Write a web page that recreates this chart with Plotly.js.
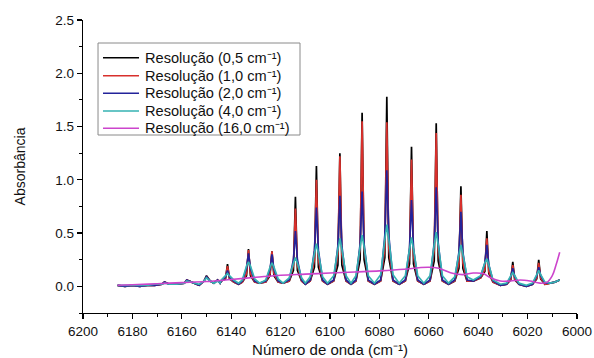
<!DOCTYPE html>
<html>
<head>
<meta charset="utf-8">
<script src="https://cdn.plot.ly/plotly-3.0.1.min.js"></script>
<style>html,body{margin:0;padding:0;background:#fff;}#chart{width:594px;height:358px;}</style>
</head>
<body>
<div id="chart"></div>
<script>
// Wavenumber grid (cm-1) shared by the four high-resolution spectra
const waveNumbers = [
6186, 6183, 6180, 6177, 6174, 6171, 6168, 6167, 6165, 6162, 6159, 6158, 6156, 6153, 6151, 6150, 6148.5, 6147, 6145.5, 6144.5,
6144, 6142.3, 6141.5, 6140.7, 6139, 6137,
6135.5, 6133.8, 6133, 6132.2, 6130.5, 6128.5,
6126, 6124.3, 6123.5, 6122.7, 6121, 6119,
6116.5, 6114.8, 6114, 6113.2, 6111.5, 6110,
6108, 6106.3, 6105.5, 6104.7, 6103, 6101,
6098.5, 6096.8, 6096, 6095.2, 6093.5, 6091.5,
6089.5, 6087.8, 6087, 6086.2, 6084.5, 6082,
6079.5, 6077.8, 6077, 6076.2, 6074.5, 6072,
6069.5, 6067.8, 6067, 6066.2, 6064.5, 6062,
6059.5, 6057.8, 6057, 6056.2, 6054.5, 6052,
6049.5, 6047.8, 6047, 6046.2, 6044.5, 6042,
6039, 6037.3, 6036.5, 6035.7, 6034, 6031,
6028.5, 6026.8, 6026, 6025.2, 6023.5, 6020.5,
6018, 6016.3, 6015.5, 6014.7, 6013,
6011, 6009, 6007];

const res05 = [
0.01, 0.00, 0.01, 0.00, 0.01, 0.01, 0.02, 0.04, 0.02, 0.02, 0.03, 0.06, 0.04, 0.01, 0.05, 0.10, 0.05, 0.03, 0.06, 0.03,
0.05, 0.07, 0.21, 0.07, 0.04, 0.02,
0.04, 0.10, 0.35, 0.10, 0.04, 0.03,
0.04, 0.10, 0.33, 0.10, 0.04, 0.03,
0.05, 0.15, 0.84, 0.15, 0.05, 0.02,
0.05, 0.18, 1.13, 0.18, 0.05, 0.02,
0.05, 0.20, 1.25, 0.20, 0.05, 0.02,
0.05, 0.25, 1.63, 0.25, 0.05, 0.02,
0.05, 0.27, 1.78, 0.27, 0.05, 0.02,
0.05, 0.21, 1.31, 0.21, 0.05, 0.02,
0.05, 0.24, 1.53, 0.24, 0.05, 0.02,
0.05, 0.17, 0.94, 0.17, 0.05, 0.05,
0.08, 0.14, 0.52, 0.12, 0.04, 0.01,
0.02, 0.06, 0.23, 0.06, 0.02, 0.00,
0.02, 0.07, 0.25, 0.07, 0.02,
0.03, 0.04, 0.06];

const res10 = [
0.01, 0.00, 0.01, 0.00, 0.01, 0.01, 0.02, 0.04, 0.02, 0.02, 0.03, 0.06, 0.04, 0.01, 0.05, 0.09, 0.05, 0.03, 0.06, 0.03,
0.05, 0.08, 0.19, 0.08, 0.04, 0.02,
0.04, 0.12, 0.34, 0.12, 0.04, 0.03,
0.04, 0.12, 0.33, 0.12, 0.04, 0.03,
0.05, 0.20, 0.73, 0.20, 0.05, 0.02,
0.05, 0.25, 1.00, 0.25, 0.05, 0.02,
0.05, 0.30, 1.22, 0.30, 0.05, 0.02,
0.05, 0.36, 1.55, 0.36, 0.05, 0.02,
0.05, 0.36, 1.54, 0.36, 0.05, 0.02,
0.05, 0.29, 1.19, 0.29, 0.05, 0.02,
0.05, 0.34, 1.44, 0.34, 0.05, 0.02,
0.05, 0.22, 0.86, 0.22, 0.05, 0.05,
0.08, 0.16, 0.45, 0.14, 0.04, 0.01,
0.02, 0.07, 0.20, 0.07, 0.02, 0.00,
0.02, 0.08, 0.22, 0.08, 0.02,
0.03, 0.04, 0.06];

const res20 = [
0.01, 0.00, 0.01, 0.00, 0.01, 0.01, 0.02, 0.04, 0.02, 0.02, 0.03, 0.06, 0.04, 0.01, 0.05, 0.09, 0.05, 0.03, 0.06, 0.03,
0.05, 0.09, 0.15, 0.09, 0.05, 0.02,
0.05, 0.17, 0.31, 0.17, 0.05, 0.03,
0.05, 0.16, 0.30, 0.16, 0.05, 0.03,
0.06, 0.25, 0.52, 0.25, 0.06, 0.02,
0.06, 0.34, 0.74, 0.34, 0.06, 0.02,
0.06, 0.38, 0.85, 0.38, 0.06, 0.02,
0.06, 0.40, 0.89, 0.40, 0.06, 0.02,
0.06, 0.48, 1.09, 0.48, 0.06, 0.02,
0.06, 0.36, 0.81, 0.36, 0.06, 0.02,
0.06, 0.41, 0.93, 0.41, 0.06, 0.02,
0.06, 0.32, 0.70, 0.32, 0.06, 0.05,
0.09, 0.22, 0.39, 0.20, 0.05, 0.01,
0.02, 0.09, 0.17, 0.09, 0.02, 0.00,
0.02, 0.10, 0.18, 0.10, 0.03,
0.03, 0.04, 0.06];

const res40 = [
0.01, 0.01, 0.01, 0.01, 0.01, 0.02, 0.02, 0.03, 0.02, 0.02, 0.03, 0.05, 0.04, 0.02, 0.05, 0.08, 0.05, 0.03, 0.05, 0.03,
0.06, 0.10, 0.12, 0.10, 0.06, 0.03,
0.06, 0.19, 0.23, 0.19, 0.07, 0.03,
0.06, 0.18, 0.22, 0.18, 0.07, 0.03,
0.08, 0.22, 0.27, 0.22, 0.08, 0.03,
0.09, 0.31, 0.40, 0.31, 0.09, 0.03,
0.10, 0.35, 0.45, 0.35, 0.10, 0.03,
0.10, 0.37, 0.48, 0.37, 0.10, 0.03,
0.11, 0.44, 0.58, 0.44, 0.11, 0.03,
0.10, 0.35, 0.46, 0.35, 0.10, 0.03,
0.10, 0.39, 0.51, 0.39, 0.10, 0.03,
0.09, 0.30, 0.39, 0.30, 0.09, 0.06,
0.10, 0.22, 0.26, 0.20, 0.06, 0.02,
0.03, 0.10, 0.13, 0.10, 0.03, 0.01,
0.03, 0.11, 0.15, 0.11, 0.04,
0.03, 0.04, 0.06];

// 16 cm-1 spectrum (smooth)
const waveNumbers16 = [6186, 6180, 6170, 6160, 6150, 6140, 6130, 6120, 6110, 6100, 6090, 6080, 6070, 6064, 6060, 6056, 6050, 6046, 6042, 6038, 6035, 6031, 6027, 6023, 6019, 6015, 6012, 6010, 6008.5, 6007];
const res160 = [0.01, 0.015, 0.025, 0.035, 0.045, 0.065, 0.085, 0.105, 0.115, 0.125, 0.135, 0.145, 0.16, 0.175, 0.18, 0.17, 0.12, 0.11, 0.125, 0.12, 0.08, 0.05, 0.05, 0.06, 0.05, 0.03, 0.04, 0.10, 0.20, 0.32];

const seriesNames = [
  'Resolução (0,5 cm⁻¹)',
  'Resolução (1,0 cm⁻¹)',
  'Resolução (2,0 cm⁻¹)',
  'Resolução (4,0 cm⁻¹)',
  'Resolução (16,0 cm⁻¹)'
];
const seriesColors = ['#000000', '#d8302c', '#23239a', '#35b2b2', '#cc44cc'];

const ys = [res05, res10, res20, res40];
const traces = ys.map((y, i) => ({
  type: 'scatter', mode: 'lines', x: waveNumbers, y: y,
  name: seriesNames[i], line: {color: seriesColors[i], width: 1.7}
}));
traces.push({type: 'scatter', mode: 'lines', x: waveNumbers16, y: res160,
  name: seriesNames[4], line: {color: seriesColors[4], width: 1.6, shape: 'spline'}});

const font = 'Liberation Sans, Arial, sans-serif';

// Legend drawn as a framed box with line samples (paper coordinates)
const legendBox = {x0: 0.0304, x1: 0.4393, y0: 0.6075, y1: 0.9215};
const legendRowY = [0.8713, 0.8099, 0.7498, 0.6894, 0.6304];
const shapes = [{type: 'rect', xref: 'paper', yref: 'paper',
  x0: legendBox.x0, x1: legendBox.x1, y0: legendBox.y0, y1: legendBox.y1,
  line: {color: '#8a8a8a', width: 1}, fillcolor: '#fff', layer: 'below'}];
const annotations = [];
seriesNames.forEach((name, i) => {
  shapes.push({type: 'line', xref: 'paper', yref: 'paper',
    x0: 0.0405, x1: 0.1134, y0: legendRowY[i], y1: legendRowY[i],
    line: {color: seriesColors[i], width: 1.6}});
  annotations.push({xref: 'paper', yref: 'paper', x: 0.1235, y: legendRowY[i],
    xanchor: 'left', yanchor: 'middle', showarrow: false, text: name, borderpad: 0,
    font: {family: font, size: 14.6, color: '#111'}});
});

const layout = {
  width: 594, height: 358,
  margin: {l: 83, r: 17, t: 20, b: 45},
  paper_bgcolor: '#fff', plot_bgcolor: '#fff',
  font: {family: font, color: '#111', size: 13},
  showlegend: false,
  shapes: shapes,
  annotations: annotations,
  xaxis: {
    range: [6200, 6000], dtick: 20, tick0: 6000,
    showgrid: false, zeroline: false, showline: true, linecolor: '#000', linewidth: 1.3,
    ticks: 'outside', ticklen: 5, tickwidth: 1.2, tickcolor: '#000',
    minor: {dtick: 10, ticks: 'outside', ticklen: 3, tickwidth: 1, tickcolor: '#000', showgrid: false},
    tickformat: 'd', tickfont: {size: 13.5},
    title: {text: 'Número de onda (cm⁻¹)', font: {size: 15}, standoff: 8}
  },
  yaxis: {
    range: [-0.25, 2.5], dtick: 0.5, tick0: 0,
    showgrid: false, zeroline: false, showline: true, linecolor: '#000', linewidth: 1.3,
    ticks: 'outside', ticklen: 5, tickwidth: 1.2, tickcolor: '#000',
    minor: {dtick: 0.25, ticks: 'outside', ticklen: 3, tickwidth: 1, tickcolor: '#000', showgrid: false},
    tickformat: '.1f', tickfont: {size: 13.5},
    title: {text: 'Absorbância', font: {size: 14}, standoff: 26}
  }
};
Plotly.newPlot('chart', traces, layout, {displayModeBar: false, staticPlot: true});
</script>
</body>
</html>
